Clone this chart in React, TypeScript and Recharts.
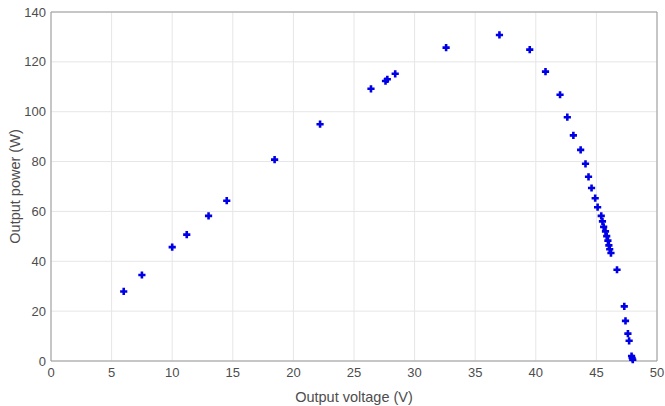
import React from 'react';
import { ScatterChart, Scatter, XAxis, YAxis, CartesianGrid, ReferenceLine } from 'recharts';

// measured operating points: output voltage (V) vs output power (W)
const voltage = [
  6.0, 7.5, 10.0, 11.2, 13.0, 14.5, 18.45, 22.2, 26.4, 27.6, 27.75, 28.4, 32.6, 37.0,
  39.5, 40.8, 42.0, 42.6, 43.1, 43.7, 44.1, 44.35, 44.6, 44.9, 45.1, 45.4, 45.5, 45.6,
  45.75, 45.85, 45.95, 46.03, 46.1, 46.2, 46.7, 47.3, 47.4, 47.6, 47.7, 47.9, 47.95, 48.0,
];
const power = [
  27.9, 34.5, 45.7, 50.7, 58.2, 64.3, 80.8, 95.0, 109.2, 112.3, 113.0, 115.2, 125.7, 130.8,
  124.9, 116.1, 106.8, 97.8, 90.5, 84.7, 79.1, 73.9, 69.4, 65.3, 61.7, 58.2, 56.0, 53.8,
  52.0, 50.1, 48.3, 46.4, 44.8, 43.3, 36.6, 21.9, 16.1, 11.0, 8.1, 2.0, 1.2, 0.5,
];
const xTicks = [0, 5, 10, 15, 20, 25, 30, 35, 40, 45, 50];
const yTicks = [0, 20, 40, 60, 80, 100, 120, 140];

const points = voltage.map((v, i) => ({ v, p: power[i] }));

const font = '"Liberation Sans", Arial, sans-serif';
const tickStyle = { fill: '#4d4d4d', fontSize: 13, fontFamily: font };

const PlusMarker = (props: any) => {
  const { cx, cy } = props;
  if (cx == null || cy == null) return null;
  const r = 3.6;
  return (
    <path
      d={`M${cx - r},${cy}H${cx + r}M${cx},${cy - r}V${cy + r}`}
      stroke="#0000e6"
      strokeWidth={2.6}
      fill="none"
    />
  );
};

export default function App() {
  return (
    <div style={{ position: 'absolute', left: 0, top: 0, width: 665, height: 406, background: '#fff' }}>
      <ScatterChart width={665} height={406} margin={{ top: 12, right: 8, left: 0, bottom: 0 }}>
        <CartesianGrid stroke="#e6e6e6" strokeWidth={1} />
        <XAxis
          type="number"
          dataKey="v"
          domain={[0, 50]}
          ticks={xTicks}
          height={45}
          tickSize={0}
          tickMargin={7}
          stroke="#999"
          tick={tickStyle}
          label={{ value: 'Output voltage (V)', position: 'insideBottom', offset: 4, style: { fill: '#4d4d4d', fontSize: 14.5, fontFamily: font } }}
        />
        <YAxis
          type="number"
          dataKey="p"
          domain={[0, 140]}
          ticks={yTicks}
          width={51}
          tickSize={0}
          tickMargin={5}
          stroke="#999"
          tick={tickStyle}
          label={{ value: 'Output power (W)', angle: -90, position: 'insideLeft', offset: 15, style: { fill: '#4d4d4d', fontSize: 14.5, fontFamily: font, textAnchor: 'middle' } }}
        />
        <ReferenceLine x={50} stroke="#999" />
        <ReferenceLine y={140} stroke="#999" />
        <Scatter data={points} shape={PlusMarker} isAnimationActive={false} />
      </ScatterChart>
    </div>
  );
}
